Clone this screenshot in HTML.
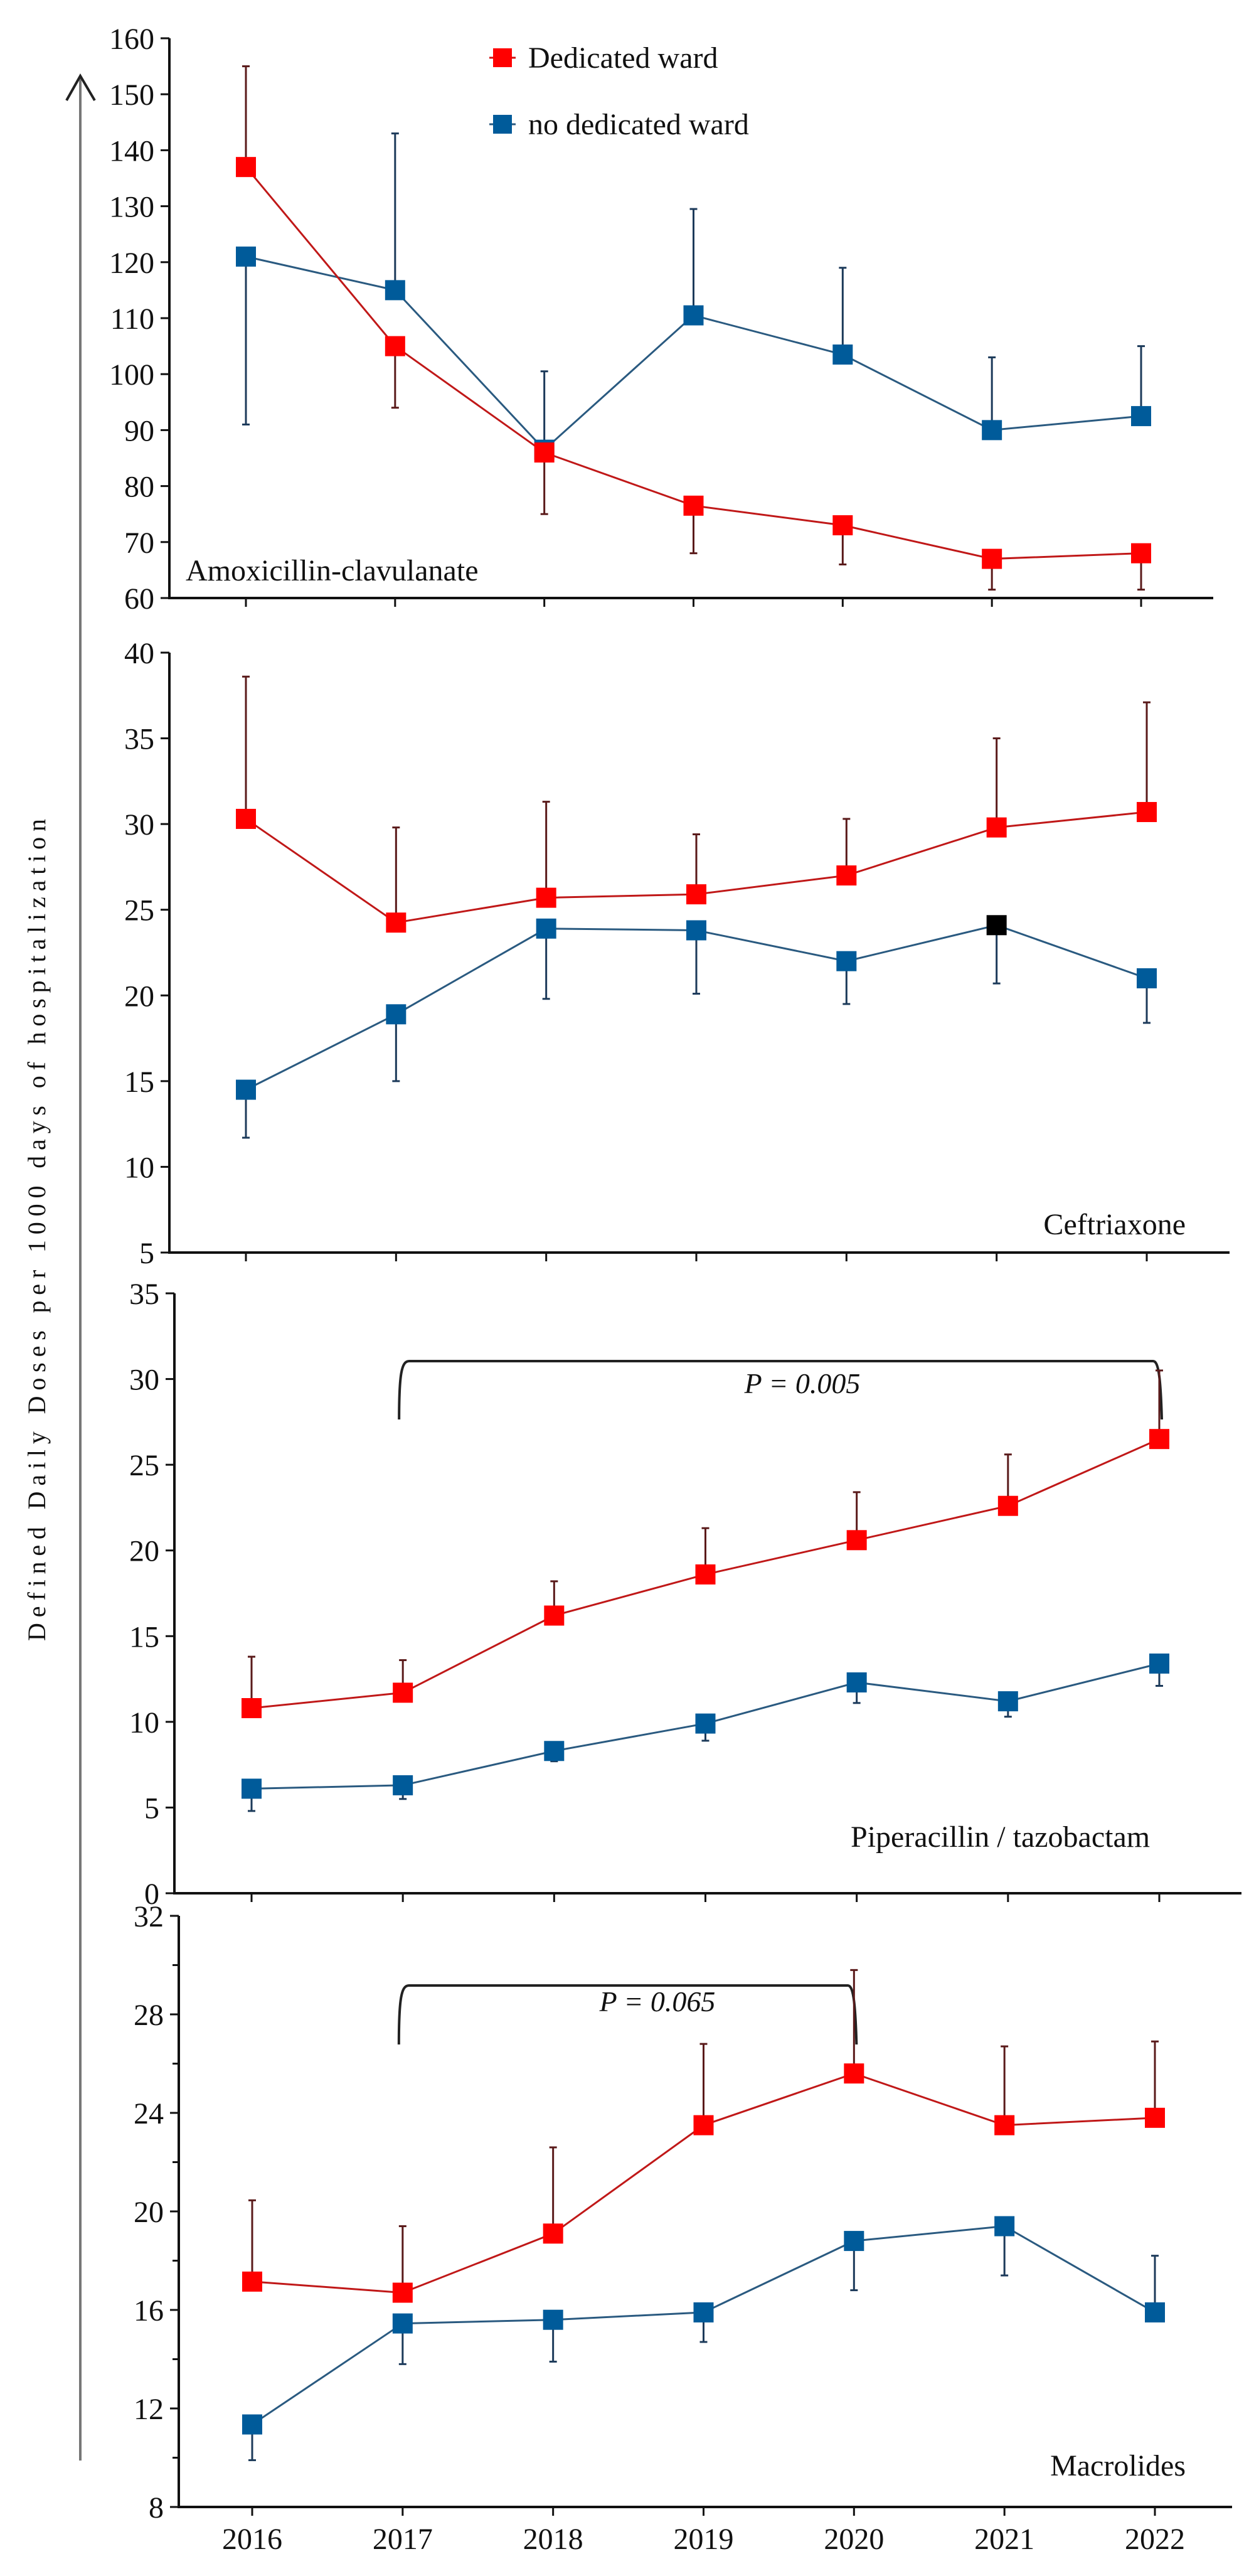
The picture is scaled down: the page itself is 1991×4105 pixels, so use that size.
<!DOCTYPE html>
<html><head><meta charset="utf-8"><style>
html,body{margin:0;padding:0;background:#fff}
svg{display:block}
text{font-family:"Liberation Serif",serif;fill:#111}
</style></head><body>
<svg id="chart" xmlns="http://www.w3.org/2000/svg" width="1991" height="4105" viewBox="0 0 1991 4105">
  <rect width="1991" height="4105" fill="#fff"/>
  <g>
    <line x1="128" y1="124" x2="128" y2="3921" stroke="#777" stroke-width="4"/>
    <polyline points="106,160 128,121 151,160" fill="none" stroke="#222" stroke-width="4"/>
  </g>
  <text transform="translate(72,1960) rotate(-90)" text-anchor="middle" font-size="40" textLength="1310" lengthAdjust="spacing">Defined Daily  Doses per 1000  days of hospitalization</text>
  <g>
    <g>
      <line x1="780" y1="92" x2="822" y2="92" stroke="#d01010" stroke-width="3"/>
      <rect x="786" y="77" width="30" height="30" fill="#ff0000"/>
      <text x="842" y="108" font-size="48">Dedicated ward</text>
    </g>
    <g>
      <line x1="780" y1="198" x2="822" y2="198" stroke="#2a5a80" stroke-width="3"/>
      <rect x="786" y="183" width="30" height="30" fill="#005b9a"/>
      <text x="842" y="214" font-size="48">no dedicated ward</text>
    </g>
  </g>
  <g id="panels"></g>
</svg>
<script>
const years = [2016, 2017, 2018, 2019, 2020, 2021, 2022];

const amoxRed = [137, 105, 86, 76.5, 73, 67, 68];
const amoxRedErr = [155, 94, 75, 68, 66, 61.5, 61.5];
const amoxBlue = [121, 115, 86.5, 110.5, 103.5, 90, 92.5];
const amoxBlueErr = [91, 143, 100.5, 129.5, 119, 103, 105];
const amoxTicks = [60, 70, 80, 90, 100, 110, 120, 130, 140, 150, 160];

const ceftRed = [30.3, 24.25, 25.7, 25.9, 27.0, 29.8, 30.7];
const ceftRedErr = [38.6, 29.8, 31.3, 29.4, 30.3, 35.0, 37.1];
const ceftBlue = [14.5, 18.9, 23.9, 23.8, 22.0, 24.1, 21.0];
const ceftBlueErr = [11.7, 15.0, 19.8, 20.1, 19.5, 20.7, 18.4];
const ceftTicks = [5, 10, 15, 20, 25, 30, 35, 40];

const pipRed = [10.8, 11.7, 16.2, 18.6, 20.6, 22.6, 26.5];
const pipRedErr = [13.8, 13.6, 18.2, 21.3, 23.4, 25.6, 30.5];
const pipBlue = [6.1, 6.3, 8.3, 9.9, 12.3, 11.2, 13.4];
const pipBlueErr = [4.8, 5.5, 7.7, 8.9, 11.1, 10.3, 12.1];
const pipTicks = [0, 5, 10, 15, 20, 25, 30, 35];

const macRed = [17.15, 16.7, 19.1, 23.5, 25.6, 23.5, 23.8];
const macRedErr = [20.45, 19.4, 22.6, 26.8, 29.8, 26.7, 26.9];
const macBlue = [11.35, 15.45, 15.6, 15.9, 18.8, 19.4, 15.9];
const macBlueErr = [9.9, 13.8, 13.9, 14.7, 16.8, 17.4, 18.2];
const macTicks = [8, 12, 16, 20, 24, 28, 32];
const macMinorTicks = [10, 14, 18, 22, 26, 30];

const pipBracket = [2017, 2022];
const macBracket = [2017, 2020];

const NS = 'http://www.w3.org/2000/svg';
const root = document.getElementById('panels');
function mk(tag, attrs, parent) {
  const e = document.createElementNS(NS, tag);
  for (const k in attrs) e.setAttribute(k, attrs[k]);
  (parent || root).appendChild(e);
  return e;
}

const panels = [
  {key:'amoxicillin', red:amoxRed, redErr:amoxRedErr, blue:amoxBlue, blueErr:amoxBlueErr, ticks:amoxTicks, minor:[],
   ax:270, right:1934, top:61, bottom:953, x0:392, x1:1819,
   label:'Amoxicillin-clavulanate', lx:296, ly:925, anchor:'start'},
  {key:'ceftriaxone', red:ceftRed, redErr:ceftRedErr, blue:ceftBlue, blueErr:ceftBlueErr, ticks:ceftTicks, minor:[],
   ax:270, right:1960, top:1040, bottom:1996, x0:392, x1:1828,
   label:'Ceftriaxone', lx:1890, ly:1967, anchor:'end', black:5},
  {key:'piperacillin', red:pipRed, redErr:pipRedErr, blue:pipBlue, blueErr:pipBlueErr, ticks:pipTicks, minor:[],
   ax:278, right:1979, top:2061, bottom:3017, x0:401, x1:1848,
   label:'Piperacillin  / tazobactam', lx:1356, ly:2943, anchor:'start',
   bracket:pipBracket, by:2169, legY:2262, ptxt:'P = 0.005', px:1279, py:2220},
  {key:'macrolides', red:macRed, redErr:macRedErr, blue:macBlue, blueErr:macBlueErr, ticks:macTicks, minor:macMinorTicks,
   ax:285, right:1964, top:3053, bottom:3995, x0:402, x1:1841,
   label:'Macrolides', lx:1890, ly:3945, anchor:'end', years:true,
   bracket:macBracket, by:3164, legY:3258, ptxt:'P = 0.065', px:1048, py:3205}
];

panels.forEach(p => {
  const g = mk('g', {});
  
  
  const tMin = p.ticks[0], tMax = p.ticks[p.ticks.length - 1];
  const y = v => p.bottom - (v - tMin) / (tMax - tMin) * (p.bottom - p.top);
  const x = yr => p.x0 + (yr - years[0]) / (years[years.length - 1] - years[0]) * (p.x1 - p.x0);

  // axes
  const yAx = mk('line', {x1:p.ax, y1:p.top, x2:p.ax, y2:p.bottom, stroke:'#111', 'stroke-width':4}, g);
  
  
  const xAx = mk('line', {x1:p.ax - 2, y1:p.bottom, x2:p.right, y2:p.bottom, stroke:'#111', 'stroke-width':4}, g);
  
  
  p.ticks.forEach(t => {
    mk('line', {x1:p.ax - 14, y1:y(t), x2:p.ax, y2:y(t), stroke:'#111', 'stroke-width':3}, g);
    const tl = mk('text', {x:p.ax - 24, y:y(t) + 17, 'text-anchor':'end', 'font-size':48}, g);
    tl.textContent = t;
    
    
  });
  p.minor.forEach(t => {
    mk('line', {x1:p.ax - 10, y1:y(t), x2:p.ax, y2:y(t), stroke:'#111', 'stroke-width':3}, g);
  });
  years.forEach(yr => {
    mk('line', {x1:x(yr), y1:p.bottom, x2:x(yr), y2:p.bottom + 14, stroke:'#111', 'stroke-width':3}, g);
    if (p.years) {
      const xl = mk('text', {x:x(yr), y:4062, 'text-anchor':'middle', 'font-size':48}, g);
      xl.textContent = yr;
      
      
    }
  });

  // panel label
  const lab = mk('text', {x:p.lx, y:p.ly, 'text-anchor':p.anchor, 'font-size':48}, g);
  lab.textContent = p.label;
  
  

  // bracket
  if (p.bracket) {
    const bx0 = x(p.bracket[0]), bx1 = x(p.bracket[1]);
    const br = mk('path', {d:`M${bx0-6},${p.legY} C${bx0-6},${p.by+20} ${bx0-2},${p.by} ${bx0+10},${p.by} L${bx1-10},${p.by} C${bx1-2},${p.by} ${bx1+2},${p.by+20} ${bx1+4},${p.legY}`,
      fill:'none', stroke:'#222', 'stroke-width':4}, g);
    
    
    const pt = mk('text', {x:p.px, y:p.py, 'text-anchor':'middle', 'font-size':46, 'font-style':'italic'}, g);
    pt.textContent = p.ptxt;
    
    
  }

  const series = [
    {name:'no-dedicated', vals:p.blue, errs:p.blueErr, line:'#2a5a80', err:'#1c3a5a', fill:'#005b9a'},
    {name:'dedicated', vals:p.red, errs:p.redErr, line:'#c01818', err:'#5a1a1a', fill:'#ff0000'}
  ];
  series.forEach(s => {
    const pts = years.map((yr, i) => x(yr) + ',' + y(s.vals[i])).join(' ');
    const pl = mk('polyline', {points:pts, fill:'none', stroke:s.line, 'stroke-width':3}, g);
    
    
  });
  series.forEach(s => {
    years.forEach((yr, i) => {
      const cx = x(yr), cy = y(s.vals[i]), ey = y(s.errs[i]);
      const eb = mk('line', {x1:cx, y1:cy, x2:cx, y2:ey, stroke:s.err, 'stroke-width':3}, g);
      
      
      mk('line', {x1:cx - 6, y1:ey, x2:cx + 6, y2:ey, stroke:s.err, 'stroke-width':3}, g);
    });
  });
  series.forEach(s => {
    years.forEach((yr, i) => {
      let fill = s.fill;
      if (s.name === 'no-dedicated' && p.black === i) fill = '#000';
      const m = mk('rect', {x:x(yr) - 16, y:y(s.vals[i]) - 16, width:32, height:32, fill:fill}, g);
      
      
    });
  });
});
</script>
</body></html>
